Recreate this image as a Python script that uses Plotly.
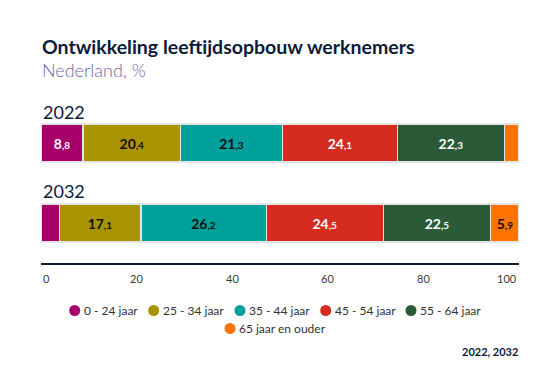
import plotly.graph_objects as go

# ---- data ----
YEARS = ["2022", "2032"]
GROUPS = ["0 - 24 jaar", "25 - 34 jaar", "35 - 44 jaar", "45 - 54 jaar",
          "55 - 64 jaar", "65 jaar en ouder"]
V_0_24 = [8.8, 3.8]
V_25_34 = [20.4, 17.1]
V_35_44 = [21.3, 26.2]
V_45_54 = [24.1, 24.5]
V_55_64 = [22.3, 22.5]
V_65_PLUS = [3.1, 5.9]
TICK_VALUES = [0, 20, 40, 60, 80, 100]
TICK_LABELS = ["0", "20", "40", "60", "80", "100"]

SERIES = [V_0_24, V_25_34, V_35_44, V_45_54, V_55_64, V_65_PLUS]

# ---- styles ----
COLORS = ["#a8006a", "#a89300", "#00a19a", "#d62b20", "#2a5a38", "#ff7300"]
TEXT_COLORS = ["#ffffff", "#111111", "#111111", "#ffffff", "#ffffff", "#111111"]
FONT = "Lato, sans-serif"
NAVY = "#0c1b3a"

# plot area in pixels
L, R, T, B = 41, 519, 103, 263
W, H = 560, 380


def px(x):
    return (x - L) / (R - L)


def py(y):
    return (B - y) / (B - T)


def label(v):
    if v < 5:
        return ""
    s = f"{v:.1f}"
    whole, dec = s.split(".")
    return f"<b>{whole}<span style='font-size:10px'>,{dec}</span></b>"


fig = go.Figure()
for name, vals, col, tcol in zip(GROUPS, SERIES, COLORS, TEXT_COLORS):
    fig.add_trace(go.Bar(
        y=YEARS, x=vals, orientation="h", name=name,
        marker=dict(color=col, line=dict(color="#e4e4e4", width=1.2)),
        text=[label(v) for v in vals], textposition="inside",
        insidetextanchor="middle", textangle=0,
        textfont=dict(family=FONT, size=14, color=tcol),
        showlegend=False, hoverinfo="x+name",
    ))

annotations = []
# title / subtitle
annotations.append(dict(text="<b>Ontwikkeling leeftijdsopbouw werknemers</b>",
                        x=px(40), y=py(46), xref="paper", yref="paper",
                        xanchor="left", yanchor="middle", showarrow=False,
                        font=dict(family=FONT, size=19.5, color=NAVY)))
annotations.append(dict(text="Nederland, %",
                        x=px(40), y=py(70), xref="paper", yref="paper",
                        xanchor="left", yanchor="middle", showarrow=False,
                        font=dict(family=FONT, size=18, color="#6f63ad", weight=300)))
# year labels above bars
for yr, ypix in zip(YEARS, [112, 191]):
    annotations.append(dict(text=yr, x=0, y=py(ypix), xref="paper", yref="paper",
                            xanchor="left", yanchor="middle",
                            showarrow=False,
                            font=dict(family=FONT, size=18, color=NAVY)))
# tick labels
for i, (tv, tl) in enumerate(zip(TICK_VALUES, TICK_LABELS)):
    anchor = "left" if i == 0 else ("right" if i == len(TICK_VALUES) - 1 else "center")
    annotations.append(dict(text=tl, x=px(L + tv / 100 * (R - L)), y=py(278),
                            xref="paper", yref="paper",
                            xanchor=anchor, yanchor="middle", showarrow=False,
                            font=dict(family=FONT, size=11, color="#3a3a3a")))

# custom legend
LEG_CX = [74.7, 153.7, 240, 325.7, 411, 230]
LEG_CY = [310.5, 310.5, 310.5, 310.5, 310.5, 328.5]
shapes = []
rad = 5.5
for name, col, cx, cy in zip(GROUPS, COLORS, LEG_CX, LEG_CY):
    shapes.append(dict(type="circle", xref="paper", yref="paper",
                       x0=px(cx - rad), x1=px(cx + rad),
                       y0=py(cy + rad), y1=py(cy - rad),
                       fillcolor=col, line=dict(width=0)))
    annotations.append(dict(text=name, x=px(cx + 7), y=py(cy), xref="paper",
                            yref="paper", xanchor="left", yanchor="middle",
                            showarrow=False,
                            font=dict(family=FONT, size=12, color="#333333")))
# footer
annotations.append(dict(text="<b>2022, 2032</b>", x=px(520), y=py(351),
                        xref="paper", yref="paper", xanchor="right",
                        yanchor="middle", showarrow=False,
                        font=dict(family=FONT, size=11, color=NAVY)))

fig.update_layout(
    width=W, height=H, barmode="stack", bargap=0.525,
    margin=dict(l=L, r=W - R, t=T, b=H - B, pad=0),
    paper_bgcolor="white", plot_bgcolor="white",
    font=dict(family=FONT),
    xaxis=dict(range=[0, 100], showgrid=False, zeroline=False,
               showticklabels=False, ticks="", showline=True,
               linecolor=NAVY, linewidth=1.5, fixedrange=True),
    yaxis=dict(type="category", categoryorder="array", categoryarray=YEARS,
               range=[1.5, -0.5], autorange=False,
               showticklabels=False, showgrid=False, zeroline=False,
               showline=False, ticks="", fixedrange=True),
    annotations=annotations, shapes=shapes, showlegend=False,
)

fig.write_html("out.html", config={"displayModeBar": False},
               post_script="document.body.style.margin='0';document.body.style.overflow='hidden';")
